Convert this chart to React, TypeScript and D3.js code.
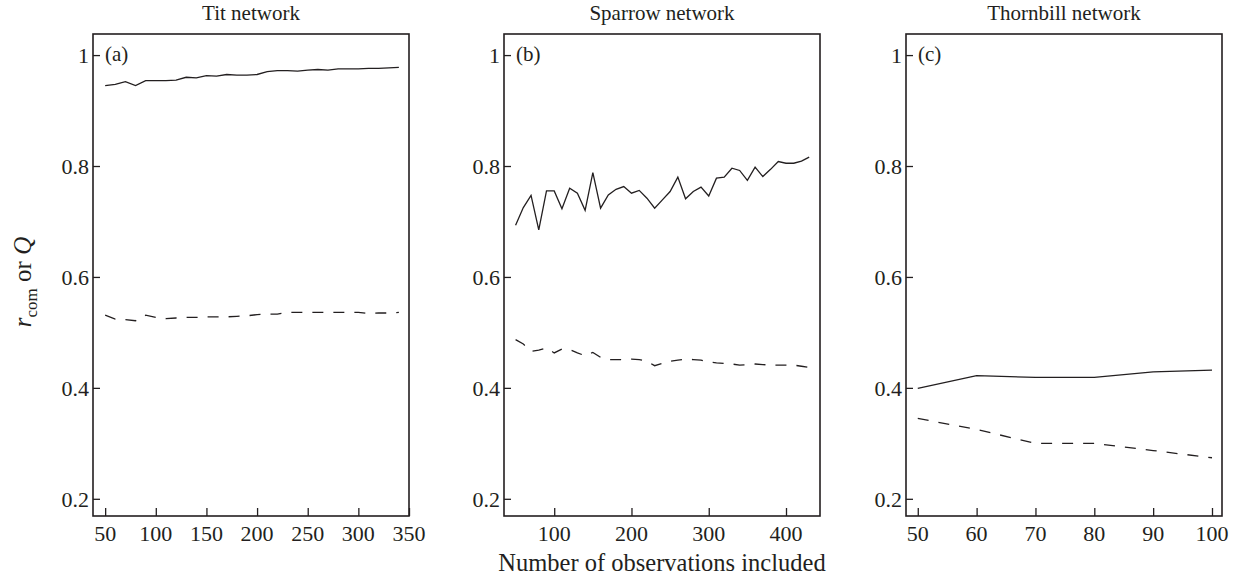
import * as d3 from "d3";
import { useEffect, useRef } from "react";

// panel (a) tit network
const titX = [50, 60, 70, 80, 90, 100, 110, 120, 130, 140, 150, 160, 170, 180, 190, 200, 210, 220, 230, 240, 250, 260, 270, 280, 290, 300, 310, 320, 330, 340];
const titR = [0.945, 0.947, 0.952, 0.945, 0.954, 0.954, 0.954, 0.955, 0.960, 0.959, 0.963, 0.962, 0.965, 0.964, 0.964, 0.965, 0.970, 0.972, 0.972, 0.971, 0.973, 0.974, 0.973, 0.975, 0.975, 0.975, 0.976, 0.976, 0.977, 0.978];
const titQ = [0.531, 0.524, 0.523, 0.521, 0.531, 0.527, 0.525, 0.526, 0.527, 0.527, 0.528, 0.528, 0.528, 0.529, 0.530, 0.532, 0.533, 0.533, 0.536, 0.536, 0.536, 0.536, 0.536, 0.536, 0.536, 0.536, 0.534, 0.535, 0.535, 0.536];

// panel (b) sparrow network
const sparrowX = [50, 60, 70, 80, 90, 100, 110, 120, 130, 140, 150, 160, 170, 180, 190, 200, 210, 220, 230, 240, 250, 260, 270, 280, 290, 300, 310, 320, 330, 340, 350, 360, 370, 380, 390, 400, 410, 420, 430];
const sparrowR = [0.693, 0.725, 0.747, 0.685, 0.755, 0.755, 0.723, 0.760, 0.751, 0.720, 0.788, 0.724, 0.748, 0.758, 0.763, 0.751, 0.756, 0.742, 0.724, 0.739, 0.754, 0.780, 0.741, 0.754, 0.762, 0.746, 0.778, 0.780, 0.796, 0.792, 0.774, 0.798, 0.781, 0.794, 0.808, 0.805, 0.805, 0.809, 0.816];
const sparrowQ = [0.487, 0.479, 0.466, 0.468, 0.472, 0.463, 0.470, 0.469, 0.463, 0.458, 0.464, 0.455, 0.451, 0.451, 0.451, 0.452, 0.451, 0.448, 0.440, 0.444, 0.448, 0.450, 0.452, 0.451, 0.450, 0.447, 0.445, 0.444, 0.443, 0.441, 0.442, 0.443, 0.442, 0.441, 0.441, 0.441, 0.441, 0.439, 0.437];

// panel (c) thornbill network
const thornX = [50, 60, 70, 80, 90, 100];
const thornR = [0.399, 0.422, 0.419, 0.419, 0.429, 0.432];
const thornQ = [0.345, 0.325, 0.300, 0.300, 0.287, 0.274];

const yTicks = [0.2, 0.4, 0.6, 0.8, 1];

const panels = [
    { title: "Tit network", tag: "(a)", x: titX, r: titR, q: titQ, domain: [38, 350], ticks: [50, 100, 150, 200, 250, 300, 350], left: 93 },
    { title: "Sparrow network", tag: "(b)", x: sparrowX, r: sparrowR, q: sparrowQ, domain: [35, 444], ticks: [100, 200, 300, 400], left: 504 },
    { title: "Thornbill network", tag: "(c)", x: thornX, r: thornR, q: thornQ, domain: [48, 101.7], ticks: [50, 60, 70, 80, 90, 100], left: 906 }
];

const FONT = "'Liberation Serif', 'Times New Roman', serif";

export default function App() {
    const ref = useRef<SVGSVGElement>(null);

    useEffect(() => {
        const width = 1235, height = 577;
        const top = 34, bottom = 516, panelW = 316;
        const ink = "#231f20";

        const svg = d3.select(ref.current);
        svg.selectAll("*").remove();
        svg.attr("width", width).attr("height", height);

        const y = d3.scaleLinear().domain([0.169, 1.038]).range([bottom, top]);

        panels.forEach(p => {
            const x = d3.scaleLinear().domain(p.domain).range([p.left, p.left + panelW]);
            const g = svg.append("g");

            // ticks point inward
            g.append("g")
                .attr("transform", `translate(${p.left},0)`)
                .call(d3.axisRight(y).tickValues(yTicks).tickSize(7).tickFormat(() => ""))
                .call(a => a.select(".domain").remove())
                .call(a => a.selectAll("line").attr("stroke", ink).attr("stroke-width", 1.3));

            g.selectAll("text.ylab")
                .data(yTicks)
                .enter()
                .append("text")
                .attr("class", "ylab")
                .attr("x", p.left - 4)
                .attr("y", d => y(d))
                .attr("dy", "0.35em")
                .attr("text-anchor", "end")
                .attr("font-family", FONT)
                .attr("font-size", 22)
                .attr("fill", ink)
                .text(d => (d === 1 ? "1" : d3.format(".1f")(d)));

            g.append("g")
                .attr("transform", `translate(0,${bottom})`)
                .call(d3.axisTop(x).tickValues(p.ticks).tickSize(8).tickFormat(() => ""))
                .call(a => a.select(".domain").remove())
                .call(a => a.selectAll("line").attr("stroke", ink).attr("stroke-width", 1.3));

            g.selectAll("text.xlab")
                .data(p.ticks)
                .enter()
                .append("text")
                .attr("class", "xlab")
                .attr("x", d => x(d))
                .attr("y", bottom + 25)
                .attr("text-anchor", "middle")
                .attr("font-family", FONT)
                .attr("font-size", 22)
                .attr("fill", ink)
                .text(d => d);

            g.append("rect")
                .attr("x", p.left)
                .attr("y", top)
                .attr("width", panelW)
                .attr("height", bottom - top)
                .attr("fill", "none")
                .attr("stroke", ink)
                .attr("stroke-width", 1.6);

            g.append("text")
                .attr("x", p.left + panelW / 2)
                .attr("y", top - 14)
                .attr("text-anchor", "middle")
                .attr("font-family", FONT)
                .attr("font-size", 21)
                .attr("fill", ink)
                .text(p.title);

            g.append("text")
                .attr("x", p.left + 12)
                .attr("y", y(1) + 6)
                .attr("font-family", FONT)
                .attr("font-size", 21)
                .attr("fill", ink)
                .text(p.tag);

            const line = d3.line<number>()
                .x((d, i) => x(p.x[i]))
                .y(d => y(d));

            g.append("path")
                .attr("d", line(p.r))
                .attr("fill", "none")
                .attr("stroke", ink)
                .attr("stroke-width", 1.3);

            g.append("path")
                .attr("d", line(p.q))
                .attr("fill", "none")
                .attr("stroke", ink)
                .attr("stroke-width", 1.3)
                .attr("stroke-dasharray", "11,10");
        });

        svg.append("text")
            .attr("x", 662)
            .attr("y", 571)
            .attr("text-anchor", "middle")
            .attr("font-family", FONT)
            .attr("font-size", 24.5)
            .attr("fill", ink)
            .text("Number of observations included");

        const yl = svg.append("text")
            .attr("transform", "translate(31,282) rotate(-90)")
            .attr("text-anchor", "middle")
            .attr("font-family", FONT)
            .attr("font-size", 25)
            .attr("fill", ink);
        yl.append("tspan").attr("font-style", "italic").text("r");
        yl.append("tspan").attr("font-size", 17).attr("dy", 6).text("com");
        yl.append("tspan").attr("dy", -6).text(" or ");
        yl.append("tspan").attr("font-style", "italic").text("Q");
    }, []);

    return <svg ref={ref} style={{ position: "absolute", left: 0, top: 0 }}></svg>;
}
